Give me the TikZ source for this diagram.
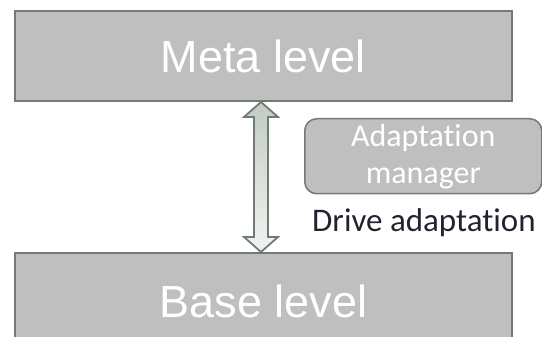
\documentclass[tikz,border=0pt]{standalone}
\usepackage{fontspec}
\setmainfont{Liberation Sans}
\newfontfamily\calibri[Ligatures=NoCommon]{Carlito}
\usetikzlibrary{calc}
\definecolor{boxfill}{HTML}{BFBFBF}
\definecolor{boxline}{HTML}{6F7B73}
\definecolor{arrowtop}{HTML}{C2CBC4}
\definecolor{arrowbot}{HTML}{F1F3F1}
\definecolor{labelink}{HTML}{23232F}

\begin{document}
\begin{tikzpicture}[x=1pt,y=1pt,
  levelbox/.style={draw=boxline, fill=boxfill, line width=2pt, text=white,
    minimum width=497pt, inner sep=0pt, font=\fontsize{45}{54}\selectfont},
  managerbox/.style={draw=boxline, fill=boxfill, line width=1.5pt, rounded corners=12pt,
    text=white, align=center, inner sep=0pt, minimum width=237pt, minimum height=75pt,
    font=\calibri\fontsize{32}{37}\selectfont},
  caption/.style={text=labelink, inner sep=0pt, font=\calibri\fontsize{33}{40}\selectfont}]
\useasboundingbox (0,0) rectangle (542,337);
\clip (0,0) rectangle (542,337);

% the two levels
\node[levelbox, minimum height=90pt, anchor=north west] (meta) at (14,327) {Meta level};
\node[levelbox, minimum height=96pt, anchor=north west] (base) at (14,85) {Base level};

% adaptation manager and its caption
\node[managerbox, anchor=north west] (manager) at (304,219) {Adaptation\\manager};
\node[caption, anchor=base west] (drive) at (312,105) {Drive adaptation};

% double-headed link between the levels
\coordinate (tipA) at ($(meta.south)+(-2.5,0)$);
\coordinate (tipB) at ($(base.north)+(-2.5,0)$);
\shade[top color=arrowtop, bottom color=arrowbot, draw=boxline, line width=1.8pt, line join=miter]
  (tipA) -- ($(tipA)+(17,-15)$) -- ($(tipA)+(7,-15)$) -- ($(tipB)+(7,15)$)
  -- ($(tipB)+(17,15)$) -- (tipB) -- ($(tipB)+(-17,15)$) -- ($(tipB)+(-7,15)$)
  -- ($(tipA)+(-7,-15)$) -- ($(tipA)+(-17,-15)$) -- cycle;
\end{tikzpicture}
\end{document}
